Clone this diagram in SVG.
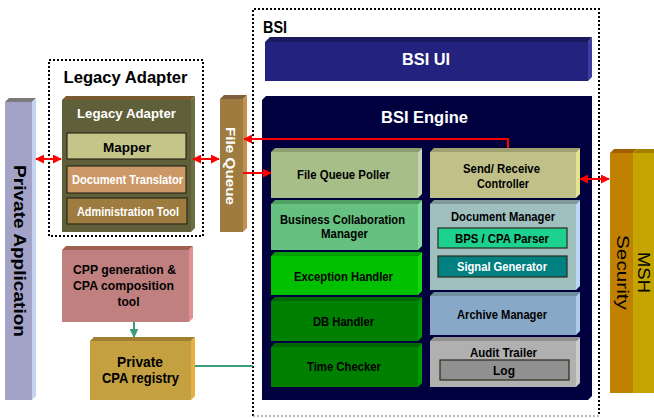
<svg xmlns="http://www.w3.org/2000/svg" width="654" height="418" viewBox="0 0 654 418">
<defs>
<marker id="ar" viewBox="0 0 10 10" refX="9" refY="5" markerWidth="9" markerHeight="9" markerUnits="userSpaceOnUse" orient="auto-start-reverse"><path d="M0,0 L10,5 L0,10 z" fill="#FF0000"/></marker>
<marker id="ag" viewBox="0 0 10 10" refX="9" refY="5" markerWidth="9" markerHeight="9" markerUnits="userSpaceOnUse" orient="auto"><path d="M0,0 L10,5 L0,10 z" fill="#3A9E7E"/></marker>
</defs>
<style>
text{font-family:"Liberation Sans",Arial,sans-serif;font-weight:bold;text-anchor:middle;}
.w{fill:#FFFFFF;}
.k{fill:#000000;}
.dot{fill:none;stroke:#000;stroke-width:2;stroke-dasharray:2,2;}
.red{stroke:#FF0000;stroke-width:2;fill:none;}
.grn{stroke:#3A9E7E;stroke-width:2;fill:none;}
.in{stroke:#2A2A1A;stroke-width:1.2;}
</style>
<rect width="654" height="418" fill="#FFFFFF"/>

<g id="bsi-container">
<path class="dot" d="M253,416 L253,9 L599,9 L599,416"/>
<path d="M253,416 L599,416" fill="none" stroke="#A0A0A0" stroke-width="1.5" stroke-dasharray="2,2"/>
<text x="275" y="33" style="font-size:16px" textLength="24" lengthAdjust="spacingAndGlyphs">BSI</text>
</g>
<g id="legacy-container">
<rect class="dot" x="49" y="60" width="154" height="176"/>
<text x="125.5" y="83" style="font-size:16px" textLength="124" lengthAdjust="spacingAndGlyphs">Legacy Adapter</text>
</g>

<g id="private-application">
<rect x="5" y="102" width="27" height="298" fill="#A3A3C8"/>
<polygon points="5,102 9,98 36,98 32,102" fill="#7A7A7A"/>
<polygon points="32,102 36,98 36,396 32,400" fill="#C4D4F0"/>
<text transform="translate(14,251) rotate(90)" class="k" style="font-size:17px" textLength="172" lengthAdjust="spacingAndGlyphs">Private Application</text>
</g>

<g id="legacy-adapter">
<rect x="62" y="100" width="129" height="132" fill="#5F5F3A"/>
<polygon points="62,100 66,96 195,96 191,100" fill="#7A5A30"/>
<polygon points="191,100 195,96 195,228 191,232" fill="#6E6E44"/>
<text x="126.5" y="118" class="w" style="font-size:13px" textLength="99" lengthAdjust="spacingAndGlyphs">Legacy Adapter</text>
</g>
<g id="mapper">
<rect class="in" x="67" y="133" width="119" height="26" fill="#C5C58A"/>
<text x="127" y="152" class="k" style="font-size:13px" textLength="48" lengthAdjust="spacingAndGlyphs">Mapper</text>
</g>
<g id="document-translator">
<rect class="in" x="67" y="166" width="119" height="27" fill="#CC9966"/>
<text x="127.5" y="184" class="w" style="font-size:12px" textLength="111" lengthAdjust="spacingAndGlyphs">Document Translator</text>
</g>
<g id="administration-tool">
<rect class="in" x="67" y="198" width="120" height="26" fill="#9E7C40"/>
<text x="128" y="216" class="w" style="font-size:12px" textLength="102" lengthAdjust="spacingAndGlyphs">Administration Tool</text>
</g>

<g id="file-queue">
<rect x="220" y="99" width="23" height="133" fill="#9E7C40"/>
<polygon points="220,99 224,95 247,95 243,99" fill="#7E6040"/>
<polygon points="243,99 247,95 247,228 243,232" fill="#C49050"/>
<text transform="translate(226,166) rotate(90)" class="w" style="font-size:13px" textLength="78" lengthAdjust="spacingAndGlyphs">File Queue</text>
</g>

<g id="cpp-tool">
<rect x="62" y="250" width="127" height="72" fill="#C08080"/>
<polygon points="62,250 66,246 193,246 189,250" fill="#A06050"/>
<polygon points="189,250 193,246 193,318 189,322" fill="#E09090"/>
<text x="124.5" y="274" class="k" style="font-size:12.5px" textLength="103" lengthAdjust="spacingAndGlyphs">CPP generation &amp;</text>
<text x="123.5" y="290" class="k" style="font-size:12.5px" textLength="101" lengthAdjust="spacingAndGlyphs">CPA composition</text>
<text x="128.5" y="306" class="k" style="font-size:12.5px" textLength="22" lengthAdjust="spacingAndGlyphs">tool</text>
</g>

<g id="private-cpa-registry">
<rect x="90" y="341" width="101" height="59" fill="#C4A040"/>
<polygon points="90,341 94,337 195,337 191,341" fill="#A08030"/>
<polygon points="191,341 195,337 195,396 191,400" fill="#E8B040"/>
<text x="140" y="367" class="k" style="font-size:14px" textLength="46" lengthAdjust="spacingAndGlyphs">Private</text>
<text x="140.5" y="383" class="k" style="font-size:14px" textLength="77" lengthAdjust="spacingAndGlyphs">CPA registry</text>
</g>

<g id="bsi-ui">
<rect x="265" y="42" width="323" height="39" fill="#23237F"/>
<polygon points="265,42 270,37 592,37 588,42" fill="#1A1A5E"/>
<polygon points="588,42 592,37 592,77 588,81" fill="#3C3CA0"/>
<text x="426" y="65" class="w" style="font-size:16px" textLength="48" lengthAdjust="spacingAndGlyphs">BSI UI</text>
</g>

<g id="bsi-engine">
<polygon points="262,100 266,96 592,96 592,396 588,400 262,400" fill="#00003F"/>
<text x="424.5" y="123" class="w" style="font-size:16px" textLength="87" lengthAdjust="spacingAndGlyphs">BSI Engine</text>
</g>

<g id="file-queue-poller">
<rect x="271" y="152" width="147" height="46" fill="#A8BE88"/>
<polygon points="271,152 275,148 422,148 418,152" fill="#8AA070"/>
<polygon points="418,152 422,148 422,194 418,198" fill="#C4D4B4"/>
<text x="343.5" y="179" class="k" style="font-size:12.5px" textLength="93" lengthAdjust="spacingAndGlyphs">File Queue Poller</text>
</g>
<g id="business-collaboration-manager">
<rect x="271" y="204" width="147" height="46" fill="#66C080"/>
<polygon points="271,204 275,200 422,200 418,204" fill="#50A060"/>
<polygon points="418,204 422,200 422,246 418,250" fill="#84DC9C"/>
<text x="342.5" y="224" class="k" style="font-size:12.5px" textLength="125" lengthAdjust="spacingAndGlyphs">Business Collaboration</text>
<text x="344.5" y="238" class="k" style="font-size:12.5px" textLength="47" lengthAdjust="spacingAndGlyphs">Manager</text>
</g>
<g id="exception-handler">
<rect x="271" y="256" width="147" height="39" fill="#00C000"/>
<polygon points="271,256 275,252 422,252 418,256" fill="#00A000"/>
<polygon points="418,256 422,252 422,291 418,295" fill="#10D810"/>
<text x="343.5" y="281" class="k" style="font-size:12.5px" textLength="99" lengthAdjust="spacingAndGlyphs">Exception Handler</text>
</g>
<g id="db-handler">
<rect x="271" y="301" width="147" height="40" fill="#008000"/>
<polygon points="271,301 275,297 422,297 418,301" fill="#006800"/>
<polygon points="418,301 422,297 422,337 418,341" fill="#009A00"/>
<text x="343.5" y="326" class="k" style="font-size:12.5px" textLength="61" lengthAdjust="spacingAndGlyphs">DB Handler</text>
</g>
<g id="time-checker">
<rect x="271" y="347" width="147" height="40" fill="#008000"/>
<polygon points="271,347 275,343 422,343 418,347" fill="#006800"/>
<polygon points="418,347 422,343 422,383 418,387" fill="#009A00"/>
<text x="344" y="371" class="k" style="font-size:12.5px" textLength="74" lengthAdjust="spacingAndGlyphs">Time Checker</text>
</g>

<g id="send-receive-controller">
<rect x="430" y="152" width="146" height="46" fill="#C0C088"/>
<polygon points="430,152 434,148 580,148 576,152" fill="#A0A070"/>
<polygon points="576,152 580,148 580,194 576,198" fill="#E4E490"/>
<text x="501.5" y="173" class="k" style="font-size:12.5px" textLength="77" lengthAdjust="spacingAndGlyphs">Send/ Receive</text>
<text x="503" y="188" class="k" style="font-size:12.5px" textLength="52" lengthAdjust="spacingAndGlyphs">Controller</text>
</g>
<g id="document-manager">
<rect x="430" y="204" width="146" height="86" fill="#A0C0C0"/>
<polygon points="430,204 434,200 580,200 576,204" fill="#809898"/>
<polygon points="576,204 580,200 580,286 576,290" fill="#B8D8F4"/>
<text x="503" y="221" class="k" style="font-size:12.5px" textLength="104" lengthAdjust="spacingAndGlyphs">Document Manager</text>
</g>
<g id="bps-cpa-parser">
<rect class="in" x="438" y="228" width="129" height="20" fill="#1DD18E"/>
<text x="502" y="243" class="k" style="font-size:12.5px" textLength="94" lengthAdjust="spacingAndGlyphs">BPS / CPA Parser</text>
</g>
<g id="signal-generator">
<rect class="in" x="438" y="256" width="129" height="21" fill="#008080"/>
<text x="502" y="271" class="w" style="font-size:12.5px" textLength="90" lengthAdjust="spacingAndGlyphs">Signal Generator</text>
</g>
<g id="archive-manager">
<rect x="430" y="296" width="146" height="39" fill="#88A8C8"/>
<polygon points="430,296 434,292 580,292 576,296" fill="#6F8F9F"/>
<polygon points="576,296 580,292 580,331 576,335" fill="#ACCCEC"/>
<text x="502" y="319" class="k" style="font-size:12.5px" textLength="90" lengthAdjust="spacingAndGlyphs">Archive Manager</text>
</g>
<g id="audit-trailer">
<rect x="430" y="341" width="146" height="46" fill="#B0B0B0"/>
<polygon points="430,341 434,337 580,337 576,341" fill="#909090"/>
<polygon points="576,341 580,337 580,383 576,387" fill="#CACACA"/>
<text x="503.5" y="357" class="k" style="font-size:12.5px" textLength="67" lengthAdjust="spacingAndGlyphs">Audit Trailer</text>
</g>
<g id="log">
<rect class="in" x="440" y="360" width="129" height="20" fill="#909090"/>
<text x="504" y="375" class="k" style="font-size:12.5px" textLength="22" lengthAdjust="spacingAndGlyphs">Log</text>
</g>

<g id="security">
<rect x="610" y="153" width="23" height="240" fill="#C08000"/>
<polygon points="610,153 614,149 637,149 633,153" fill="#A06000"/>
<text transform="translate(617,272.5) rotate(90)" class="k" style="font-size:17px;font-weight:normal" textLength="75" lengthAdjust="spacingAndGlyphs">Security</text>
</g>
<g id="msh">
<rect x="633" y="153" width="21" height="240" fill="#C4A400"/>
<polygon points="633,153 637,149 654,149 654,153" fill="#A08000"/>
<text transform="translate(638,272.5) rotate(90)" class="k" style="font-size:17px;font-weight:normal" textLength="41" lengthAdjust="spacingAndGlyphs">MSH</text>
</g>

<g id="connectors">
<line class="red" x1="36" y1="159" x2="61" y2="159" marker-start="url(#ar)" marker-end="url(#ar)"/>
<line class="red" x1="193" y1="159" x2="219" y2="159" marker-start="url(#ar)" marker-end="url(#ar)"/>
<line class="red" x1="243" y1="173" x2="271" y2="173" marker-end="url(#ar)"/>
<polyline class="red" points="508,148 508,139 244,139" marker-end="url(#ar)"/>
<line class="red" x1="580" y1="179" x2="609" y2="179" marker-start="url(#ar)" marker-end="url(#ar)"/>
<line class="grn" x1="134" y1="322" x2="134" y2="337" marker-end="url(#ag)"/>
<line class="grn" x1="195" y1="366" x2="253" y2="366"/>
</g>
</svg>
